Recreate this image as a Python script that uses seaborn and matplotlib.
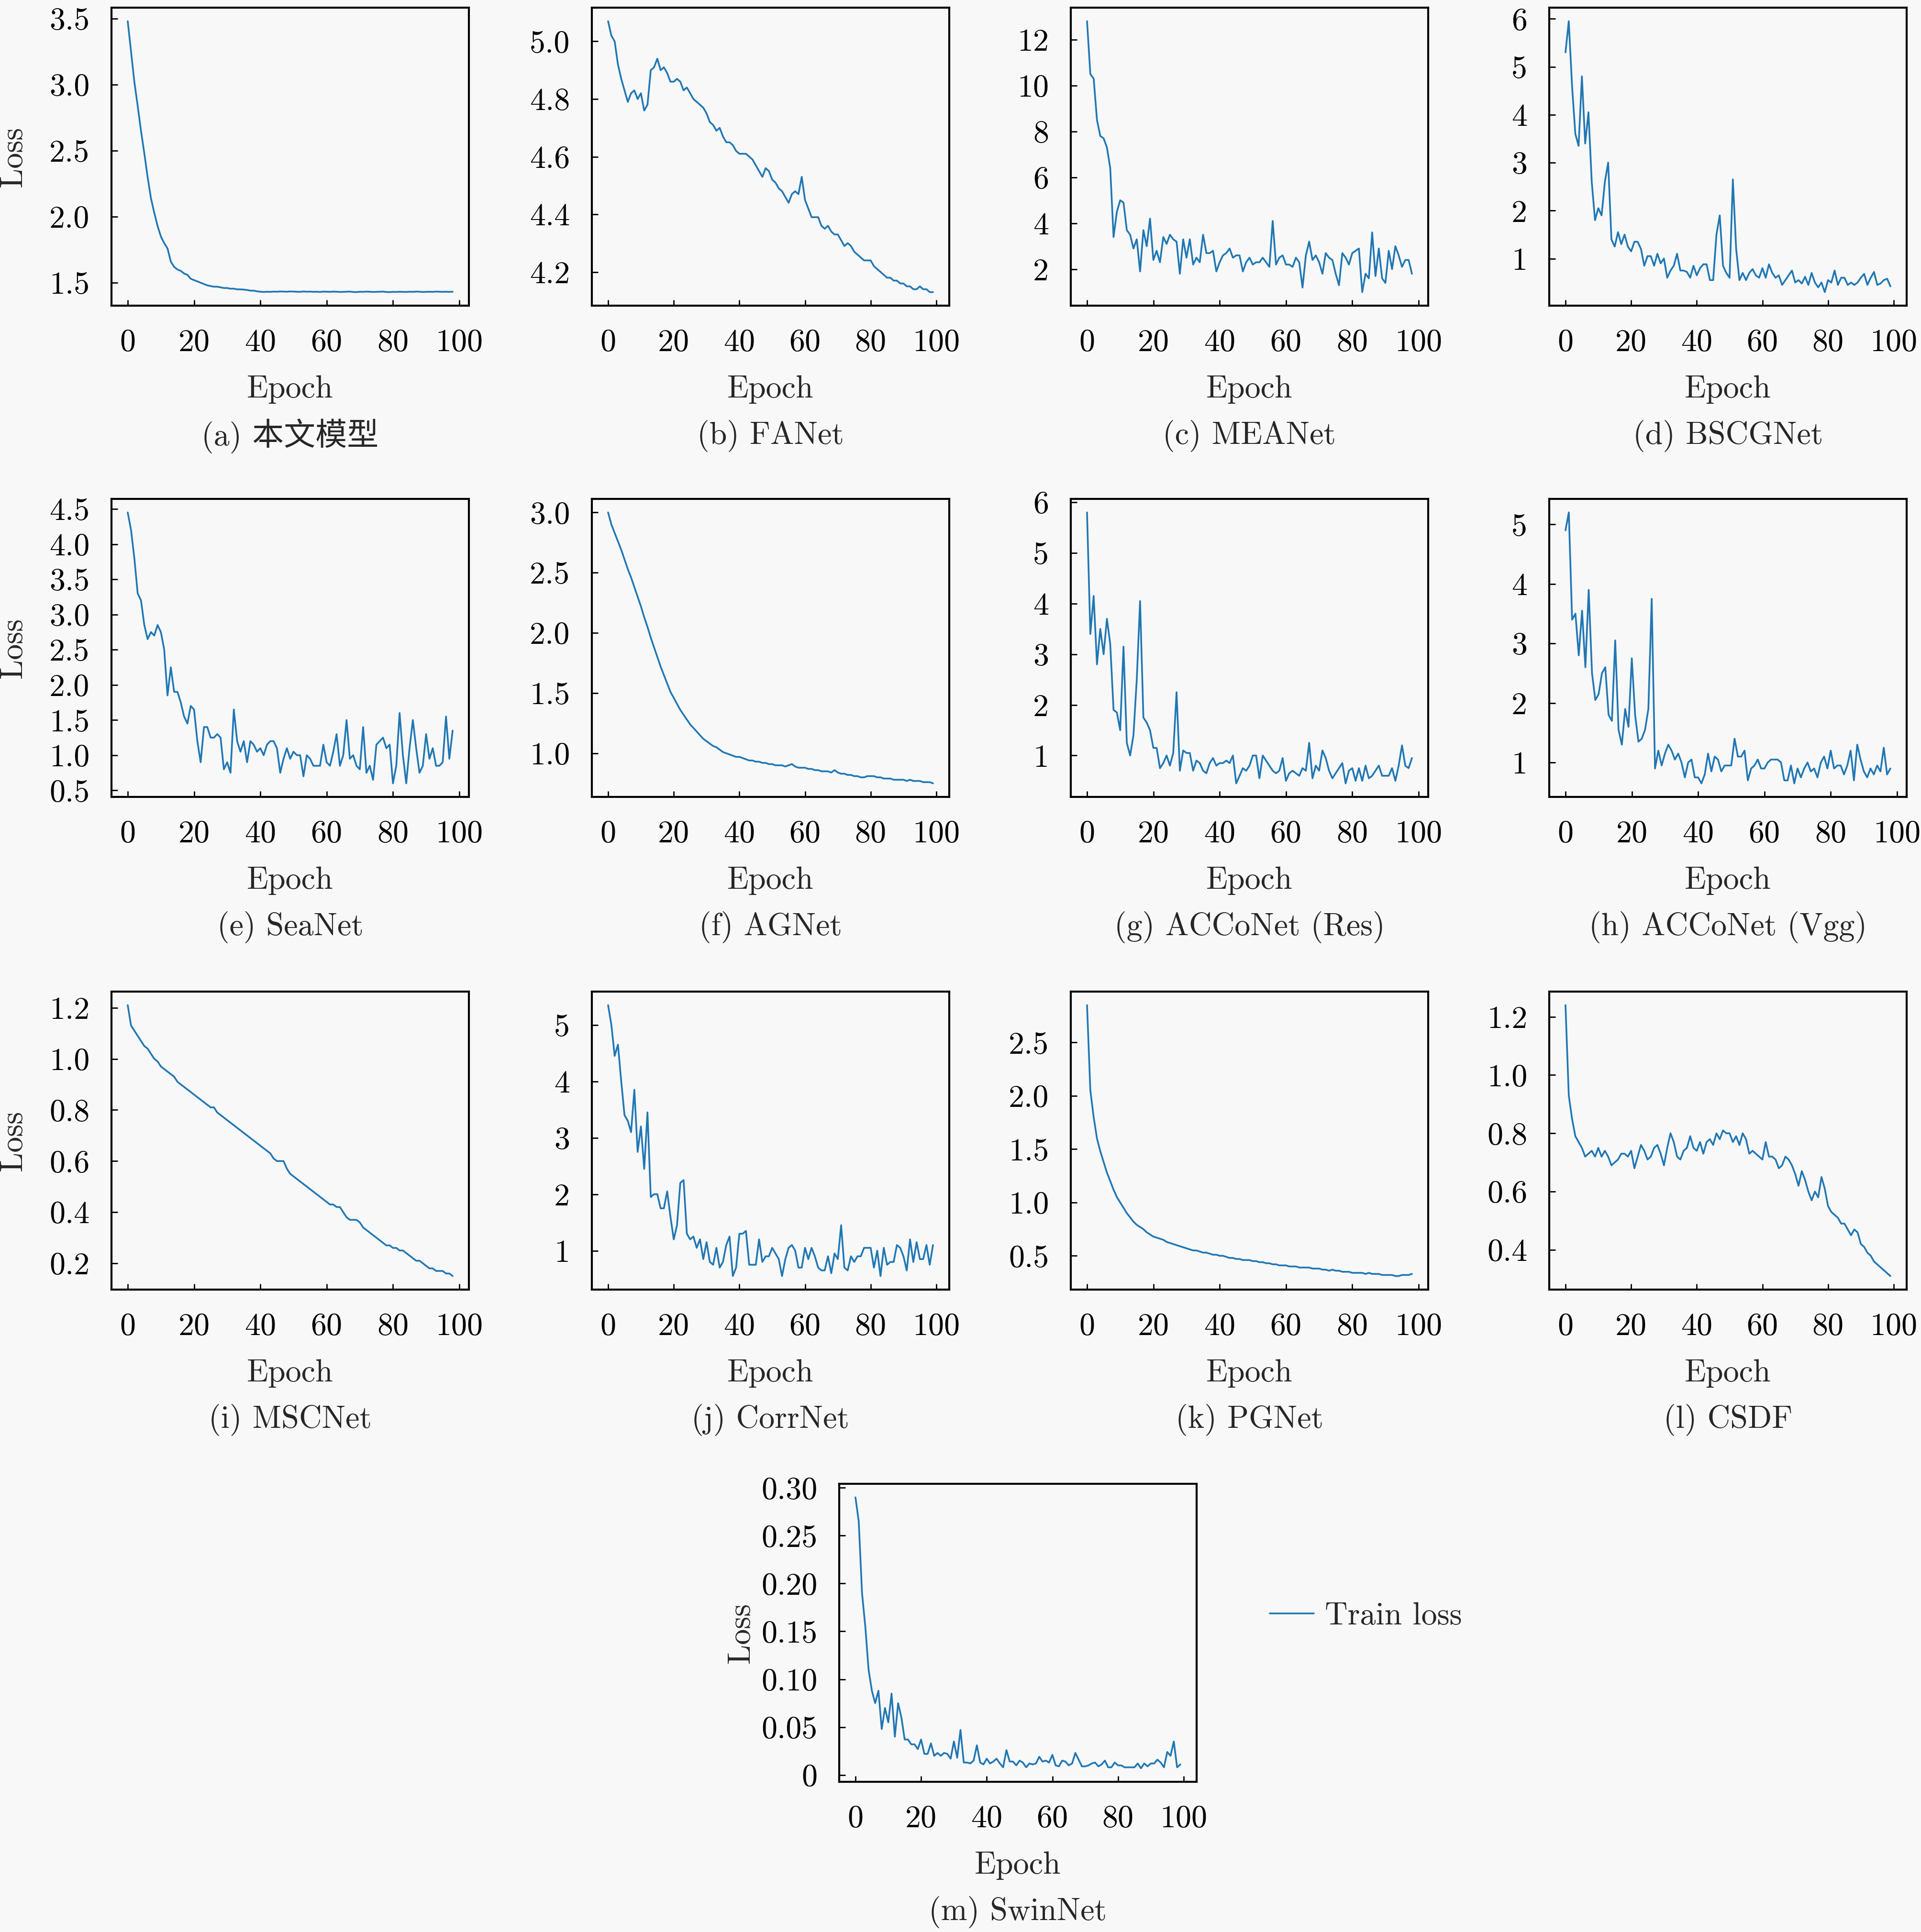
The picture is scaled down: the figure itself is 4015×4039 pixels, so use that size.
import matplotlib
matplotlib.use("Agg")
import matplotlib.pyplot as plt
import seaborn as sns
import pandas as pd

sns.set_style("ticks")
plt.rcParams['font.family'] = ['cmr10', 'Noto Sans CJK SC']
plt.rcParams['axes.unicode_minus'] = False
plt.rcParams['axes.formatter.use_mathtext'] = True

BG = '#f8f8f8'
LINE = '#2077b4'
FS = 47.5

# loss curves, one value per epoch
loss_a = [3.48, 3.25, 3.02, 2.84, 2.65, 2.48, 2.30, 2.14, 2.03, 1.93,
          1.85, 1.80, 1.76, 1.66, 1.62, 1.60, 1.59, 1.57, 1.56, 1.53,
          1.52, 1.51, 1.50, 1.49, 1.48, 1.475, 1.47, 1.47, 1.465, 1.46,
          1.46, 1.455, 1.455, 1.45, 1.45, 1.448, 1.445, 1.44, 1.44, 1.435,
          1.432, 1.43, 1.432, 1.431, 1.433, 1.432, 1.434, 1.433, 1.432, 1.434,
          1.433, 1.432, 1.431, 1.434, 1.432, 1.433, 1.431, 1.432, 1.430, 1.433,
          1.432, 1.431, 1.433, 1.432, 1.430, 1.431, 1.432, 1.433, 1.430, 1.429,
          1.432, 1.431, 1.433, 1.432, 1.430, 1.431, 1.432, 1.433, 1.430, 1.429,
          1.431, 1.430, 1.432, 1.431, 1.430, 1.432, 1.431, 1.433, 1.432, 1.430,
          1.431, 1.432, 1.431, 1.433, 1.432, 1.431, 1.432, 1.431, 1.432]

loss_b = [5.07, 5.02, 5.00, 4.92, 4.87, 4.83, 4.79, 4.82, 4.83, 4.80,
          4.82, 4.76, 4.78, 4.90, 4.91, 4.94, 4.90, 4.91, 4.89, 4.86,
          4.86, 4.87, 4.86, 4.83, 4.84, 4.82, 4.80, 4.79, 4.78, 4.77,
          4.75, 4.72, 4.71, 4.69, 4.70, 4.67, 4.65, 4.65, 4.64, 4.62,
          4.61, 4.61, 4.61, 4.60, 4.59, 4.57, 4.55, 4.53, 4.56, 4.55,
          4.52, 4.51, 4.49, 4.48, 4.46, 4.44, 4.47, 4.48, 4.47, 4.53,
          4.45, 4.42, 4.39, 4.39, 4.39, 4.36, 4.35, 4.36, 4.34, 4.33,
          4.33, 4.31, 4.29, 4.30, 4.29, 4.27, 4.26, 4.25, 4.24, 4.24,
          4.24, 4.22, 4.21, 4.20, 4.19, 4.18, 4.18, 4.17, 4.17, 4.16,
          4.16, 4.15, 4.15, 4.14, 4.14, 4.15, 4.14, 4.14, 4.13, 4.13]

loss_c = [12.8, 10.5, 10.3, 8.5, 7.8, 7.7, 7.3, 6.4, 3.4, 4.5,
          5.0, 4.9, 3.7, 3.5, 2.9, 3.3, 1.9, 3.7, 3.0, 4.2,
          2.4, 2.8, 2.3, 3.4, 3.1, 3.5, 3.3, 3.2, 1.8, 3.3,
          2.5, 3.3, 2.2, 2.5, 2.3, 3.5, 2.7, 2.7, 2.8, 1.9,
          2.3, 2.6, 2.7, 2.9, 2.5, 2.6, 2.6, 1.9, 2.3, 2.5,
          2.2, 2.3, 2.3, 2.5, 2.3, 2.1, 4.1, 2.2, 2.5, 2.6,
          2.2, 2.2, 2.1, 2.5, 2.3, 1.2, 2.6, 3.2, 2.4, 2.6,
          2.3, 1.8, 2.7, 2.5, 2.4, 1.8, 1.3, 2.7, 2.5, 2.2,
          2.7, 2.8, 2.9, 1.0, 1.8, 1.6, 3.6, 1.7, 2.9, 1.6,
          1.4, 2.8, 2.0, 3.0, 2.6, 2.1, 2.4, 2.4, 1.8]

loss_d = [5.3, 5.95, 4.6, 3.6, 3.35, 4.8, 3.4, 4.05, 2.6, 1.8,
          2.05, 1.9, 2.6, 3.0, 1.4, 1.25, 1.55, 1.3, 1.5, 1.25,
          1.15, 1.35, 1.35, 1.2, 0.85, 1.05, 1.05, 0.85, 1.1, 0.9,
          1.0, 0.6, 0.75, 0.85, 1.1, 0.75, 0.75, 0.72, 0.6, 0.85,
          0.65, 0.8, 0.88, 0.88, 0.55, 0.55, 1.5, 1.9, 0.85, 0.7,
          0.6, 2.65, 1.2, 0.55, 0.7, 0.55, 0.7, 0.78, 0.65, 0.6,
          0.8, 0.6, 0.88, 0.7, 0.6, 0.65, 0.45, 0.55, 0.65, 0.75,
          0.5, 0.55, 0.48, 0.62, 0.45, 0.7, 0.5, 0.4, 0.5, 0.3,
          0.55, 0.5, 0.75, 0.45, 0.6, 0.6, 0.45, 0.5, 0.45, 0.5,
          0.6, 0.68, 0.45, 0.6, 0.72, 0.45, 0.48, 0.55, 0.58, 0.42]

loss_e = [4.45, 4.2, 3.8, 3.3, 3.2, 2.85, 2.65, 2.75, 2.7, 2.85,
          2.75, 2.5, 1.85, 2.25, 1.9, 1.9, 1.75, 1.55, 1.45, 1.7,
          1.65, 1.2, 0.9, 1.4, 1.4, 1.25, 1.25, 1.3, 1.25, 0.8,
          0.9, 0.75, 1.65, 1.2, 1.05, 1.2, 0.9, 1.2, 1.15, 1.05,
          1.1, 1.0, 1.15, 1.2, 1.2, 1.1, 0.75, 0.95, 1.1, 0.95,
          1.05, 1.0, 1.0, 0.7, 1.0, 0.95, 0.85, 0.85, 0.85, 1.15,
          0.9, 0.85, 1.05, 1.3, 0.85, 1.0, 1.5, 0.95, 1.0, 0.85,
          0.8, 1.4, 0.75, 0.85, 0.65, 1.15, 1.2, 1.25, 1.1, 1.15,
          0.6, 0.85, 1.6, 1.0, 0.6, 1.1, 1.5, 1.1, 0.75, 0.85,
          1.3, 0.95, 1.1, 0.85, 0.85, 0.9, 1.55, 0.95, 1.35]

loss_f = [3.0, 2.9, 2.83, 2.76, 2.69, 2.61, 2.53, 2.46, 2.38, 2.30,
          2.22, 2.13, 2.05, 1.96, 1.88, 1.80, 1.72, 1.65, 1.58, 1.51,
          1.46, 1.41, 1.36, 1.32, 1.28, 1.24, 1.21, 1.18, 1.15, 1.12,
          1.10, 1.08, 1.06, 1.05, 1.03, 1.01, 1.00, 0.99, 0.98, 0.97,
          0.97, 0.96, 0.95, 0.94, 0.94, 0.93, 0.93, 0.92, 0.92, 0.91,
          0.91, 0.90, 0.90, 0.90, 0.89, 0.90, 0.91, 0.89, 0.88, 0.88,
          0.88, 0.87, 0.87, 0.86, 0.86, 0.85, 0.85, 0.85, 0.84, 0.86,
          0.84, 0.83, 0.83, 0.82, 0.82, 0.81, 0.81, 0.80, 0.80, 0.81,
          0.81, 0.81, 0.80, 0.80, 0.79, 0.79, 0.79, 0.78, 0.78, 0.78,
          0.78, 0.77, 0.78, 0.77, 0.77, 0.77, 0.76, 0.76, 0.76, 0.75]

loss_g = [5.8, 3.4, 4.15, 2.8, 3.5, 3.0, 3.7, 3.2, 1.9, 1.85,
          1.5, 3.15, 1.25, 1.0, 1.4, 2.5, 4.05, 1.75, 1.65, 1.5,
          1.15, 1.15, 0.75, 0.85, 1.0, 0.8, 1.05, 2.25, 0.7, 1.1,
          1.05, 1.05, 0.7, 0.9, 0.85, 0.7, 0.65, 0.85, 0.95, 0.8,
          0.85, 0.85, 0.9, 0.85, 1.0, 0.45, 0.6, 0.75, 0.7, 0.8,
          1.0, 1.0, 0.55, 1.0, 0.9, 0.8, 0.7, 0.65, 0.7, 0.95,
          0.5, 0.65, 0.7, 0.65, 0.6, 0.75, 0.7, 1.25, 0.55, 0.8,
          0.7, 1.1, 0.95, 0.7, 0.55, 0.65, 0.75, 0.85, 0.45, 0.7,
          0.75, 0.5, 0.75, 0.5, 0.8, 0.55, 0.6, 0.7, 0.8, 0.6,
          0.6, 0.6, 0.75, 0.5, 0.8, 1.2, 0.8, 0.75, 0.95]

loss_h = [4.9, 5.2, 3.4, 3.5, 2.8, 3.55, 2.6, 3.9, 2.5, 2.05,
          2.15, 2.5, 2.6, 1.8, 1.7, 3.05, 1.55, 1.3, 1.9, 1.6,
          2.75, 1.8, 1.35, 1.4, 1.55, 1.9, 3.75, 0.9, 1.2, 0.95,
          1.15, 1.3, 1.2, 1.05, 1.15, 1.0, 0.75, 1.0, 1.05, 0.75,
          0.75, 0.65, 0.8, 1.15, 0.85, 1.1, 1.05, 0.85, 0.95, 0.95,
          0.95, 1.4, 1.1, 1.1, 1.2, 0.7, 0.9, 0.95, 1.05, 0.9,
          0.9, 1.0, 1.05, 1.05, 1.05, 1.0, 0.7, 0.7, 0.95, 0.65,
          0.9, 0.75, 0.9, 1.0, 0.85, 0.9, 0.75, 1.0, 1.1, 0.9,
          1.2, 0.9, 0.95, 0.95, 0.8, 0.95, 1.2, 0.7, 1.3, 1.05,
          0.85, 0.75, 0.9, 0.8, 0.95, 0.85, 1.25, 0.8, 0.9]

loss_i = [1.21, 1.13, 1.11, 1.09, 1.07, 1.05, 1.04, 1.02, 1.00, 0.99,
          0.97, 0.96, 0.95, 0.94, 0.93, 0.91, 0.90, 0.89, 0.88, 0.87,
          0.86, 0.85, 0.84, 0.83, 0.82, 0.81, 0.81, 0.79, 0.78, 0.77,
          0.76, 0.75, 0.74, 0.73, 0.72, 0.71, 0.70, 0.69, 0.68, 0.67,
          0.66, 0.65, 0.64, 0.63, 0.61, 0.60, 0.60, 0.60, 0.57, 0.55,
          0.54, 0.53, 0.52, 0.51, 0.50, 0.49, 0.48, 0.47, 0.46, 0.45,
          0.44, 0.43, 0.43, 0.42, 0.42, 0.40, 0.38, 0.37, 0.37, 0.37,
          0.36, 0.34, 0.33, 0.32, 0.31, 0.30, 0.29, 0.28, 0.27, 0.27,
          0.26, 0.26, 0.25, 0.25, 0.24, 0.23, 0.22, 0.21, 0.21, 0.20,
          0.19, 0.18, 0.18, 0.17, 0.17, 0.17, 0.16, 0.16, 0.15]

loss_j = [5.35, 5.0, 4.45, 4.65, 4.0, 3.4, 3.3, 3.1, 3.85, 2.75,
          3.2, 2.45, 3.45, 1.95, 2.0, 2.0, 1.75, 1.75, 2.05, 1.6,
          1.2, 1.45, 2.2, 2.25, 1.3, 1.2, 1.25, 1.05, 1.2, 0.85,
          1.15, 0.8, 0.75, 1.05, 0.7, 0.8, 1.1, 1.25, 0.55, 0.7,
          1.3, 1.3, 1.35, 0.75, 0.75, 0.75, 1.2, 0.8, 0.9, 0.9,
          1.05, 0.95, 0.85, 0.55, 0.85, 1.05, 1.1, 1.0, 0.7, 0.7,
          1.05, 0.85, 1.05, 0.9, 0.7, 0.65, 0.65, 0.9, 0.6, 0.95,
          0.85, 1.45, 0.7, 0.65, 0.9, 0.8, 0.9, 0.9, 1.05, 1.05,
          1.05, 0.7, 1.0, 0.55, 1.05, 0.75, 0.8, 0.8, 1.1, 1.05,
          0.9, 0.65, 1.2, 0.8, 1.15, 0.85, 0.85, 1.1, 0.75, 1.1]

loss_k = [2.85, 2.05, 1.80, 1.60, 1.48, 1.38, 1.28, 1.20, 1.12, 1.05,
          1.00, 0.95, 0.90, 0.86, 0.82, 0.79, 0.77, 0.75, 0.72, 0.70,
          0.68, 0.67, 0.66, 0.65, 0.63, 0.62, 0.61, 0.60, 0.59, 0.58,
          0.57, 0.56, 0.55, 0.55, 0.54, 0.53, 0.53, 0.52, 0.51, 0.51,
          0.50, 0.50, 0.49, 0.48, 0.48, 0.47, 0.47, 0.46, 0.46, 0.46,
          0.45, 0.45, 0.44, 0.44, 0.43, 0.43, 0.42, 0.42, 0.41, 0.41,
          0.41, 0.40, 0.40, 0.40, 0.39, 0.39, 0.39, 0.39, 0.38, 0.38,
          0.38, 0.37, 0.37, 0.36, 0.37, 0.36, 0.36, 0.35, 0.35, 0.35,
          0.34, 0.34, 0.34, 0.34, 0.33, 0.34, 0.33, 0.33, 0.33, 0.32,
          0.32, 0.32, 0.32, 0.31, 0.31, 0.32, 0.32, 0.32, 0.33]

loss_l = [1.24, 0.93, 0.85, 0.79, 0.77, 0.75, 0.72, 0.73, 0.74, 0.72,
          0.75, 0.72, 0.74, 0.72, 0.69, 0.70, 0.71, 0.73, 0.73, 0.72,
          0.74, 0.68, 0.72, 0.76, 0.74, 0.71, 0.72, 0.75, 0.76, 0.73,
          0.69, 0.75, 0.80, 0.77, 0.72, 0.71, 0.74, 0.75, 0.79, 0.75,
          0.74, 0.77, 0.73, 0.77, 0.78, 0.76, 0.80, 0.78, 0.81, 0.80,
          0.80, 0.77, 0.79, 0.76, 0.80, 0.78, 0.73, 0.74, 0.73, 0.72,
          0.71, 0.77, 0.72, 0.72, 0.71, 0.68, 0.69, 0.72, 0.71, 0.69,
          0.66, 0.62, 0.67, 0.64, 0.60, 0.57, 0.60, 0.58, 0.65, 0.61,
          0.55, 0.53, 0.52, 0.51, 0.49, 0.49, 0.47, 0.45, 0.47, 0.46,
          0.42, 0.41, 0.39, 0.38, 0.36, 0.35, 0.34, 0.33, 0.32, 0.31]

loss_m = [0.29, 0.265, 0.19, 0.155, 0.11, 0.088, 0.075, 0.088, 0.048, 0.07,
          0.055, 0.085, 0.04, 0.075, 0.06, 0.037, 0.037, 0.032, 0.032, 0.027,
          0.037, 0.022, 0.022, 0.033, 0.02, 0.023, 0.02, 0.023, 0.022, 0.017,
          0.035, 0.018, 0.047, 0.013, 0.013, 0.012, 0.015, 0.031, 0.013, 0.011,
          0.017, 0.012, 0.014, 0.017, 0.012, 0.008, 0.026, 0.014, 0.014, 0.01,
          0.015, 0.013, 0.008, 0.012, 0.011, 0.012, 0.019, 0.014, 0.015, 0.013,
          0.021, 0.01, 0.009, 0.015, 0.014, 0.01, 0.012, 0.023, 0.016, 0.009,
          0.009, 0.01, 0.012, 0.013, 0.009, 0.011, 0.015, 0.008, 0.008, 0.013,
          0.01, 0.01, 0.008, 0.008, 0.008, 0.008, 0.012, 0.007, 0.012, 0.009,
          0.012, 0.012, 0.016, 0.013, 0.008, 0.024, 0.02, 0.035, 0.008, 0.011]

titles = ['(a) 本文模型', '(b) FANet', '(c) MEANet', '(d) BSCGNet',
          '(e) SeaNet', '(f) AGNet', '(g) ACCoNet (Res)', '(h) ACCoNet (Vgg)',
          '(i) MSCNet', '(j) CorrNet', '(k) PGNet', '(l) CSDF', '(m) SwinNet']
series = [loss_a, loss_b, loss_c, loss_d, loss_e, loss_f, loss_g,
          loss_h, loss_i, loss_j, loss_k, loss_l, loss_m]
yticks = [['1.5', '2.0', '2.5', '3.0', '3.5'],
          ['4.2', '4.4', '4.6', '4.8', '5.0'],
          ['2', '4', '6', '8', '10', '12'],
          ['1', '2', '3', '4', '5', '6'],
          ['0.5', '1.0', '1.5', '2.0', '2.5', '3.0', '3.5', '4.0', '4.5'],
          ['1.0', '1.5', '2.0', '2.5', '3.0'],
          ['1', '2', '3', '4', '5', '6'],
          ['1', '2', '3', '4', '5'],
          ['0.2', '0.4', '0.6', '0.8', '1.0', '1.2'],
          ['1', '2', '3', '4', '5'],
          ['0.5', '1.0', '1.5', '2.0', '2.5'],
          ['0.4', '0.6', '0.8', '1.0', '1.2'],
          ['0', '0.05', '0.10', '0.15', '0.20', '0.25', '0.30']]
xticks = [0, 20, 40, 60, 80, 100]
with_ylabel = [True, False, False, False, True, False, False, False,
               True, False, False, False, True]

W, H = 4016, 4039
col_left = [233, 1237, 2238, 3238]
row_bottom = [639, 1666, 2696]
AX_W, AX_H = 747, 623

fig = plt.figure(figsize=(W / 100, H / 100), dpi=100, facecolor=BG)

for i, (title, vals, yt) in enumerate(zip(titles, series, yticks)):
    if i < 12:
        left, bottom = col_left[i % 4], row_bottom[i // 4]
    else:
        left, bottom = 1754, 3725
    ax = fig.add_axes([left / W, 1 - bottom / H, AX_W / W, AX_H / H])
    ax.set_facecolor(BG)
    df = pd.DataFrame({'Epoch': range(len(vals)), 'Loss': vals})
    sns.lineplot(data=df, x='Epoch', y='Loss', ax=ax, color=LINE,
                 linewidth=2.6, errorbar=None, legend=False,
                 label='Train loss' if i == 12 else None)
    ax.set_xticks(xticks)
    ax.set_xticklabels([str(t) for t in xticks])
    ax.set_yticks([float(t) for t in yt])
    ax.set_yticklabels(yt)
    for s in ax.spines.values():
        s.set_linewidth(3)
        s.set_color('black')
    ax.tick_params(direction='in', length=9, width=2, labelsize=FS,
                   colors='black')
    ax.tick_params(axis='x', pad=35)
    ax.tick_params(axis='y', pad=33)
    ax.set_xlabel('Epoch', fontsize=FS)
    ax.xaxis.set_label_coords(0.5, -0.233)
    if with_ylabel[i]:
        ax.set_ylabel('Loss', fontsize=FS)
        ax.yaxis.set_label_coords(-0.234, 0.5)
    else:
        ax.set_ylabel('')
    ax.text(0.5, -0.438, title, transform=ax.transAxes, ha='center',
            va='center', fontsize=FS)
    if i == 12:
        ax.legend(loc='center left', bbox_to_anchor=(2654 / W, 1 - 3379 / H),
                  bbox_transform=fig.transFigure, frameon=False, borderpad=0,
                  borderaxespad=0, handlelength=1.4, handletextpad=0.35,
                  fontsize=FS)

fig.savefig('out.png', dpi=100, facecolor=BG)
